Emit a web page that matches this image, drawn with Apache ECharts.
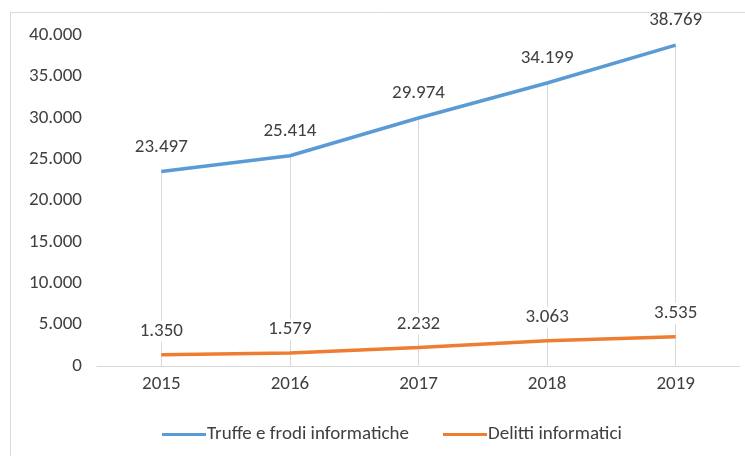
<!DOCTYPE html>
<html><head><meta charset="utf-8">
<script src="https://cdn.jsdelivr.net/npm/echarts@6/dist/echarts.min.js"></script>
<style>html,body{margin:0;padding:0;background:#fff}#c{width:745px;height:456px}</style>
</head><body><div id="c"></div>
<script>
const categories = ['2015','2016','2017','2018','2019'];
const truffe = [23497, 25414, 29974, 34199, 38769];
const delitti = [1350, 1579, 2232, 3063, 3535];
const seriesNames = ['Truffe e frodi informatiche','Delitti informatici'];

function fmt(v){ return String(v).replace(/\B(?=(\d{3})+(?!\d))/g, '.'); }
const font = 'Carlito, "Open Sans", sans-serif';
const txt = '#404040';
const fs = 19;

const chart = echarts.init(document.getElementById('c'), null, {renderer:'canvas'});
chart.setOption({
  animation:false,
  backgroundColor:'#fff',
  graphic:[{type:'polyline', shape:{points:[[10.5,460],[10.5,12.5],[750,12.5]]}, style:{stroke:'#d9d9d9', lineWidth:1, fill:null}}],
  grid:{left:97, right:5, top:35, bottom:90},
  legend:{
    top:420, left:157, itemWidth:44, itemHeight:3, itemGap:34,
    icon:'rect',
    textStyle:{fontFamily:font, fontSize:fs, color:txt, padding:[0,0,0,-4]},
    data:seriesNames
  },
  xAxis:{
    type:'category', data:categories, boundaryGap:true,
    axisLine:{lineStyle:{color:'#d9d9d9'}}, axisTick:{show:false},
    axisLabel:{fontFamily:font, fontSize:fs, color:txt, margin:9}
  },
  yAxis:{
    type:'value', min:0, max:40000, interval:5000,
    axisLine:{show:false}, axisTick:{show:false}, splitLine:{show:false},
    axisLabel:{fontFamily:font, fontSize:fs, color:txt, margin:15, formatter:fmt}
  },
  series:[
    {name:seriesNames[0], type:'line', data:truffe, symbol:'circle', symbolSize:0, showSymbol:true,
     lineStyle:{color:'#5B9BD5', width:3.5}, itemStyle:{color:'#5B9BD5'},
     label:{show:true, position:'top', distance:15, fontFamily:font, fontSize:fs, color:txt, formatter:p=>fmt(p.value)},
     markLine:{silent:true, symbol:'none', z:1, label:{show:false}, lineStyle:{color:'#d9d9d9', width:1, type:'solid'},
       data: truffe.map((v,i)=>[{coord:[i,v]},{coord:[i,0]}])}
    },
    {name:seriesNames[1], type:'line', data:delitti, symbol:'circle', symbolSize:0, showSymbol:true, z:3,
     lineStyle:{color:'#ED7D31', width:3.5}, itemStyle:{color:'#ED7D31'},
     label:{show:true, position:'top', distance:13, fontFamily:font, fontSize:fs, color:txt, backgroundColor:'#fff', padding:[1,2], formatter:p=>fmt(p.value)}
    }
  ]
});
</script></body></html>
